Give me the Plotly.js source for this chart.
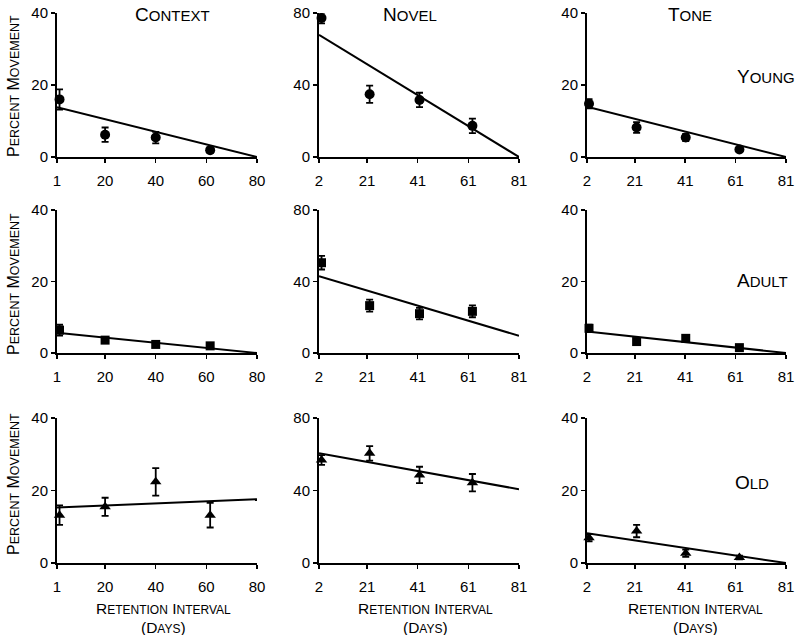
<!DOCTYPE html>
<html>
<head>
<meta charset="utf-8">
<script src="https://cdn.plot.ly/plotly-3.0.1.min.js"></script>
<style>
  html, body { margin: 0; padding: 0; background: #fff; }
  #chart { width: 800px; height: 635px; }
</style>
</head>
<body>
<div id="chart"></div>
<script>
/* ---- Data ---- */
const COLUMNS = ['Context', 'Novel', 'Tone'];
const ROWS = ['Young', 'Adult', 'Old'];

// retention interval (days) of each test, per column
const contextDays = [2, 20, 40, 61.5];
const novelDays   = [3, 22, 41.7, 62.6];
const toneDays    = [2.8, 21.7, 41.2, 62.5];

// axis ranges and tick labels per column
const contextTicks = [1, 20, 40, 60, 80];
const novelTicks   = [2, 21, 41, 61, 81];
const toneTicks    = [2, 21, 41, 61, 81];
const contextYMax = 40;
const novelYMax   = 80;
const toneYMax    = 40;

// percent movement (mean) and error bars
const contextYoung = [16.0, 6.2, 5.4, 1.9];
const contextYoungErr = [2.8, 2.0, 1.6, 0.7];
const contextAdult = [6.4, 3.6, 2.4, 2.0];
const contextAdultErr = [1.5, 0.6, 0.5, 0.5];
const contextOld = [13.2, 15.5, 22.4, 13.2];
const contextOldErr = [2.7, 2.5, 3.8, 3.4];

const novelYoung = [77.2, 34.9, 31.7, 17.3];
const novelYoungErr = [3.0, 4.8, 4.0, 4.0];
const novelAdult = [50.5, 26.5, 22.0, 23.3];
const novelAdultErr = [3.8, 3.4, 3.2, 3.3];
const novelOld = [56.8, 60.5, 48.6, 44.3];
const novelOldErr = [2.7, 4.0, 4.5, 4.8];

const toneYoung = [14.8, 8.2, 5.4, 2.1];
const toneYoungErr = [1.3, 1.5, 1.0, 0.5];
const toneAdult = [6.9, 3.2, 4.1, 1.5];
const toneAdultErr = [1.0, 0.8, 0.6, 0.5];
const toneOld = [7.0, 8.8, 2.7, 1.5];
const toneOldErr = [1.0, 1.7, 1.0, 0.5];

// regression line end points (value at first and last tick)
const contextFit = [[13.8, 0], [5.7, 0], [15.3, 17.6]];
const novelFit   = [[67.9, 0], [43.0, 9.6], [60.5, 40.7]];
const toneFit    = [[14.0, 0], [6.0, 0], [8.2, 0]];

/* ---- Layout helpers ---- */
const W = 800, H = 635;
const FONT = 'Liberation Sans, Arial, Helvetica, sans-serif';
const COL_PX = [[57, 257], [319, 519], [587, 786]];
const ROW_PX = [[13, 157], [210, 353], [418, 563]];
const MARKERS = ['circle', 'square', 'triangle-up'];
const MARKER_SIZE = [10, 9, 10];

const px = x => x / W;
const py = y => 1 - y / H;

// small caps: first letter of each word full size, rest smaller
function smallCaps(text, small) {
  return text.split(' ').map(w =>
    w[0] + (w.length > 1 ? `<span style="font-size:${small}px">${w.slice(1).toUpperCase()}</span>` : '')
  ).join(' ');
}

const columnData = [
  { days: contextDays, ticks: contextTicks, ymax: contextYMax, fit: contextFit,
    rows: [[contextYoung, contextYoungErr], [contextAdult, contextAdultErr], [contextOld, contextOldErr]] },
  { days: novelDays, ticks: novelTicks, ymax: novelYMax, fit: novelFit,
    rows: [[novelYoung, novelYoungErr], [novelAdult, novelAdultErr], [novelOld, novelOldErr]] },
  { days: toneDays, ticks: toneTicks, ymax: toneYMax, fit: toneFit,
    rows: [[toneYoung, toneYoungErr], [toneAdult, toneAdultErr], [toneOld, toneOldErr]] },
];

const traces = [];
const layout = {
  width: W, height: H,
  margin: { l: 0, r: 0, t: 0, b: 0 },
  paper_bgcolor: '#fff',
  plot_bgcolor: '#fff',
  showlegend: false,
  font: { family: FONT, size: 14, color: '#000' },
  annotations: [],
};

let n = 0;
for (let r = 0; r < 3; r++) {
  for (let c = 0; c < 3; c++) {
    n++;
    const col = columnData[c];
    const [vals, errs] = col.rows[r];
    const xa = n === 1 ? 'x' : 'x' + n;
    const ya = n === 1 ? 'y' : 'y' + n;
    const ticks = col.ticks;

    // fitted line
    traces.push({
      x: [ticks[0], ticks[ticks.length - 1]],
      y: col.fit[r],
      type: 'scatter', mode: 'lines',
      line: { color: '#000', width: 2 },
      cliponaxis: false,
      xaxis: xa, yaxis: ya, hoverinfo: 'skip',
    });
    // means with error bars
    traces.push({
      x: col.days, y: vals,
      type: 'scatter', mode: 'markers',
      marker: { symbol: MARKERS[r], size: MARKER_SIZE[r], color: '#000' },
      error_y: { type: 'data', array: errs, visible: true, color: '#000', thickness: 1.8, width: 3.5 },
      cliponaxis: false,
      xaxis: xa, yaxis: ya,
    });

    const axKey = n === 1 ? '' : String(n);
    layout['xaxis' + axKey] = {
      domain: [px(COL_PX[c][0]), px(COL_PX[c][1])],
      anchor: ya,
      range: [ticks[0], ticks[ticks.length - 1]],
      tickmode: 'array', tickvals: ticks, ticktext: ticks.map(String),
      showline: true, linecolor: '#000', linewidth: 2,
      ticks: 'outside', ticklen: 4, tickwidth: 1.5, tickcolor: '#000',
      ticklabelstandoff: 5,
      showgrid: false, zeroline: false,
      tickfont: { family: FONT, size: 15, color: '#000' },
      fixedrange: true,
    };
    layout['yaxis' + axKey] = {
      domain: [py(ROW_PX[r][1]), py(ROW_PX[r][0])],
      anchor: xa,
      range: [0, col.ymax],
      tickmode: 'array', tickvals: [0, col.ymax / 2, col.ymax],
      showline: true, linecolor: '#000', linewidth: 2,
      ticks: 'outside', ticklen: 4, tickwidth: 1.5, tickcolor: '#000',
      showgrid: false, zeroline: false,
      tickfont: { family: FONT, size: 15, color: '#000' },
      fixedrange: true,
    };
  }
}

/* ---- Text labels ---- */
function label(x, y, text, size, angle) {
  layout.annotations.push({
    xref: 'paper', yref: 'paper', x: px(x), y: py(y),
    xanchor: 'center', yanchor: 'middle',
    text: text, showarrow: false, textangle: angle || 0,
    font: { family: FONT, size: size, color: '#000' },
  });
}

const colTitleX = [172, 410, 690];
COLUMNS.forEach((t, i) => label(colTitleX[i], 14, smallCaps(t, 15), 19));

const rowLabelPos = [[766, 77], [762, 280], [752, 482]];
ROWS.forEach((t, i) => label(rowLabelPos[i][0], rowLabelPos[i][1], smallCaps(t, 15), 19));

const yTitleY = [86, 284, 484];
yTitleY.forEach(y => label(13, y, smallCaps('Percent Movement', 12.5), 16, -90));

const xTitleX = [163, 425, 695];
xTitleX.forEach(x => {
  label(x, 608, smallCaps('Retention Interval', 12), 15.5);
  label(x, 627, '(' + smallCaps('Days', 12) + ')', 15.5);
});

Plotly.newPlot('chart', traces, layout, { displayModeBar: false, staticPlot: true });
</script>
</body>
</html>
